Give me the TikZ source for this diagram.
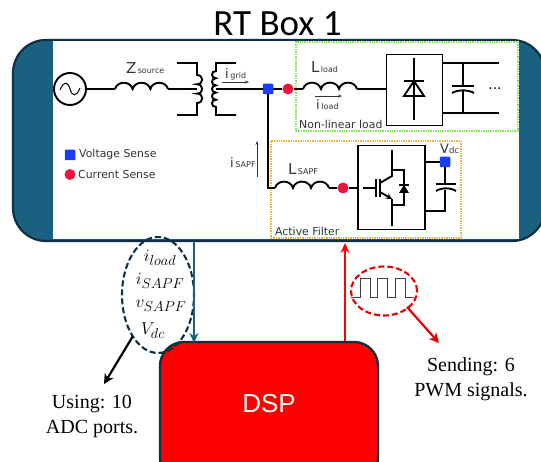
\documentclass[tikz,border=0pt]{standalone}
\usepackage{fontspec}
\setmainfont{Liberation Serif}
\newfontfamily\labfont{DejaVu Sans}
\newfontfamily\titlefont{Carlito}
\newfontfamily\dspfont{Liberation Sans}
\usetikzlibrary{arrows.meta,calc,shapes.geometric}
\definecolor{tealbar}{HTML}{1A6080}
\definecolor{navyline}{HTML}{0E2F44}
\definecolor{sensered}{HTML}{F0143C}
\definecolor{senseblue}{HTML}{1A3CFF}
\definecolor{labgray}{HTML}{333333}
\definecolor{dotgreen}{HTML}{7CE85A}
\definecolor{dotorange}{HTML}{F0B040}
\newcommand{\lab}[2]{{\fontsize{13}{13}\selectfont #1}\,{\fontsize{8}{9}\selectfont #2}}
% inductor: three humps from coordinate #1 to coordinate #2
\newcommand{\inductor}[2]{%
  \draw[wire] (#1) to[out=75,in=105,looseness=1.25] ($(#1)!0.333!(#2)$)
     to[out=75,in=105,looseness=1.25] ($(#1)!0.667!(#2)$)
     to[out=75,in=105,looseness=1.25] (#2);}
\tikzset{
  wire/.style={line width=1.9pt,black},
  thinarrow/.style={line width=0.7pt,black!80,-{Stealth[length=4pt,width=3pt]}},
  vsense/.style={fill=senseblue,draw=none,rounded corners=0.8pt,minimum size=10.5pt,inner sep=0pt,rectangle},
  isense/.style={fill=sensered,draw=none,circle,minimum size=11pt,inner sep=0pt},
  lbltext/.style={font=\labfont,text=labgray,inner sep=0pt},
  legendtext/.style={lbltext,font=\labfont\fontsize{10.9}{12}\selectfont,anchor=west},
  mathlabel/.style={inner sep=0pt,font=\fontsize{19}{22}\selectfont},
  note/.style={inner sep=0pt,align=center,font=\fontsize{20}{25}\selectfont},
  blackbox/.style={draw=black,line width=1.9pt,fill=white,inner sep=0pt},
  coilr/.style={out=0,in=0,looseness=1.9},
  coill/.style={out=180,in=180,looseness=1.9},
  bigarrow/.style={line width=2.2pt},
  ovaldash/.style={dash pattern=on 6pt off 3pt,line width=2.1pt,ellipse,inner sep=0pt},
}
\begin{document}
\begin{tikzpicture}[x=1pt,y=-1pt]
\clip (0,0) rectangle (541,462);
\fill[white] (0,0) rectangle (541,462);

\node[inner sep=0pt,font=\titlefont\fontsize{37}{40}\selectfont] (title) at (277.5,24) {RT Box 1};

% RT box frame
\draw[fill=tealbar,draw=navyline,line width=2.2pt,rounded corners=33pt] (13,40) rectangle (545,241);
\fill[white] (53,41.5) rectangle (519,239);
\draw[navyline,line width=2.2pt] (45,40) -- (510,40) (45,241) -- (510,241);

% enclosures
\node[draw=dotgreen,densely dotted,line width=1.4pt,minimum width=222pt,minimum height=89pt,inner sep=0pt] (nll) at (407,86.5) {};
\node[draw=dotorange,densely dotted,line width=1.4pt,minimum width=190pt,minimum height=97pt,inner sep=0pt] (af) at (366,189.5) {};

% source
\node[draw=black,line width=1.9pt,circle,minimum size=32pt,inner sep=0pt] (src) at (70,89) {};
\draw[line width=1pt] (60,90) .. controls (64,80) and (68,82) .. (70,89) .. controls (72,96) and (76,98) .. (80,88);

% series path
\coordinate (zl) at (115,89);
\coordinate (zr) at (168,89);
\draw[wire] (src) -- (zl);
\inductor{zl}{zr}
\node[lbltext,anchor=base west] (zlab) at (126,74) {{\fontsize{15}{15}\selectfont Z}{\fontsize{8}{9}\selectfont\,source}};

% transformer
\coordinate (pc) at (197,89);
\coordinate (sc) at (216,89);
\draw[wire] (zr) -- (pc);
\draw[wire] (177,63) -- (197,63) -- (197,75) to[coilr] (197,84.3) to[coilr] (197,93.6) to[coilr] (197,103) -- (197,115) -- (177,115);
\draw[wire] (236,63) -- (216,63) -- (216,71) to[coill] (216,78.2) to[coill] (216,85.4) to[coill] (216,92.6) to[coill] (216,99.8) to[coill] (216,107) -- (216,115) -- (236,115);
\node[lbltext,anchor=base west] (glab) at (225,79) {\lab{i}{grid}};
\coordinate (ga) at (222,82);
\coordinate (gb) at (249,82);
\draw[thinarrow] (ga) -- (gb);

% sense points on the line
\node[vsense] (v1) at (268,89) {};
\node[isense] (i1) at (288,89) {};
\draw[wire] (sc) -- (v1);
\draw[wire] (v1) -- (i1);

% load branch
\coordinate (ll) at (303,89);
\coordinate (lr) at (357,89);
\draw[wire] (i1) -- (ll);
\inductor{ll}{lr}
\node[lbltext,anchor=base west] (llab) at (311,73) {{\fontsize{15}{15}\selectfont L}{\fontsize{8}{9}\selectfont\,load}};
\coordinate (la) at (315,96);
\coordinate (lb) at (342,96);
\draw[thinarrow] (la) -- (lb);
\node[lbltext,anchor=base west] (ilab) at (316,110) {\lab{i}{load}};

% rectifier
\node[blackbox,minimum width=56pt,minimum height=71pt] (rect) at (414.5,90) {};
\draw[wire] (lr) -- (rect.west |- lr);
\draw[wire] (414,58) -- (414,120);
\draw[wire,line join=miter] (404,96) -- (424,96) -- (414,81) -- cycle;
\draw[wire] (404,81) -- (424,81);
\coordinate (o1) at (499,63);
\coordinate (o2) at (499,113);
\draw[wire] (rect.east |- o1) -- (o1);
\draw[wire] (rect.east |- o2) -- (o2);
\draw[wire] (463,63) -- (463,86) (463,91) -- (463,113);
\draw[wire] (452,86) -- (474,86);
\draw[wire] (452,93) .. controls (458,89.5) and (468,89.5) .. (474,93);
\node[inner sep=0pt,font=\labfont\fontsize{14}{14}\selectfont,text=black] (dots) at (495,89) {...};
\node[lbltext,anchor=base west,font=\labfont\fontsize{10.9}{12}\selectfont] (nlt) at (299,129) {Non-linear load};

% filter branch
\coordinate (fcorner) at (268,188);
\coordinate (fl) at (275,188);
\coordinate (fr) at (329,188);
\draw[wire] (v1) -- (fcorner) -- (fl);
\inductor{fl}{fr}
\node[isense] (i2) at (343,188) {};
\draw[wire] (fr) -- (i2);
\node[lbltext,anchor=base west] (lslab) at (288,175) {{\fontsize{15}{15}\selectfont L}{\fontsize{8}{9}\selectfont\,SAPF}};
\coordinate (sa) at (257,177);
\coordinate (sb) at (257,141);
\draw[thinarrow] (sa) -- (sb);
\node[lbltext,anchor=base west] (islab) at (230,168) {\lab{i}{SAPF}};

% inverter
\node[blackbox,minimum width=67pt,minimum height=84pt] (inv) at (391.5,187.5) {};
\draw[wire] (i2) -- (inv.west |- i2);
\draw[wire] (363,188) -- (376,188);
\draw[wire] (376,179) -- (376,197);
\draw[wire] (380,179) -- (380,197);
\draw[wire] (392,150) -- (392,176) -- (380,183);
\draw[wire,-{Stealth[length=6pt,width=6pt]}] (380,192) -- (392,199);
\draw[wire] (392,199) -- (392,226);
\draw[wire] (392,170) -- (404,170) -- (404,205) -- (392,205);
\fill[black] (399,193) -- (409,193) -- (404,185) -- cycle;
\draw[line width=1.4pt] (399,185) -- (409,185);

\node[vsense] (v2) at (445,162) {};
\draw[wire] (inv.east |- v2) -- (v2);
\coordinate (cb) at (445,211);
\draw[wire] (v2) -- (445,184) (445,190) -- (cb) -- (inv.east |- cb);
\draw[wire] (436,184) -- (456,184);
\draw[wire] (436,191) .. controls (441,187.5) and (451,187.5) .. (456,191);
\node[lbltext,anchor=base west] (vlab) at (440,154) {{\fontsize{13}{13}\selectfont V}{\fontsize{8.5}{9}\selectfont dc}};
\node[lbltext,anchor=base west,font=\labfont\fontsize{10.9}{12}\selectfont] (aft) at (275,236) {Active Filter};

% legend
\node[vsense] (lv) at (70,155) {};
\node[isense] (li) at (70,174.5) {};
\node[legendtext] (ltv) at (79,154.5) {Voltage Sense};
\node[legendtext] (lti) at (78,174.5) {Current Sense};

% DSP
\node[draw=navyline,fill=red,line width=2.4pt,rounded corners=24pt,minimum width=218pt,minimum height=140pt,inner sep=0pt] (dsp) at (269,412) {};
\node[inner sep=0pt,text=white,font=\dspfont\fontsize{26}{28}\selectfont] (dsplab) at (269,404) {DSP};

% ADC side
\node[draw=navyline,ovaldash,minimum width=72pt,minimum height=116pt] (adc) at (158,295) {};
\node[mathlabel] (m1) at (160,258) {$i_{load}$};
\node[mathlabel] (m2) at (160,281) {$i_{SAPF}$};
\node[mathlabel] (m3) at (161,306) {$v_{SAPF}$};
\node[mathlabel] (m4) at (153,331) {$V_{dc}$};
\coordinate (bs) at (194,241);
\coordinate (be) at (194,343);
\draw[tealbar,bigarrow,-{Stealth[length=10pt,width=9pt]}] (bs) -- (be);
\coordinate (ka) at (133,336);
\coordinate (kb) at (104,384);
\draw[black,bigarrow,-{Stealth[length=10pt,width=10pt]}] (ka) -- (kb);
\node[note] (using) at (92,416) {Using: 10\\ADC ports.};

% PWM side
\coordinate (ra) at (345,341);
\coordinate (rb) at (345,243);
\draw[red,bigarrow,-{Stealth[length=10pt,width=9pt]}] (ra) -- (rb);
\node[draw=red!90!black,ovaldash,minimum width=66pt,minimum height=49pt] (pwm) at (384,291) {};
\draw[line width=0.8pt,black!75] (351,297) -- (360,297) -- (360,278) -- (370,278) -- (370,297) -- (377,297) -- (377,278) -- (387,278) -- (387,297) -- (395,297) -- (395,278) -- (405,278) -- (405,297) -- (414,297);
\coordinate (pa) at (407,307);
\coordinate (pb) at (439,343);
\draw[red!90!black,bigarrow,-{Stealth[length=10pt,width=10pt]}] (pa) -- (pb);
\node[note] (send) at (471,379) {Sending: 6\\PWM signals.};
\end{tikzpicture}
\end{document}
